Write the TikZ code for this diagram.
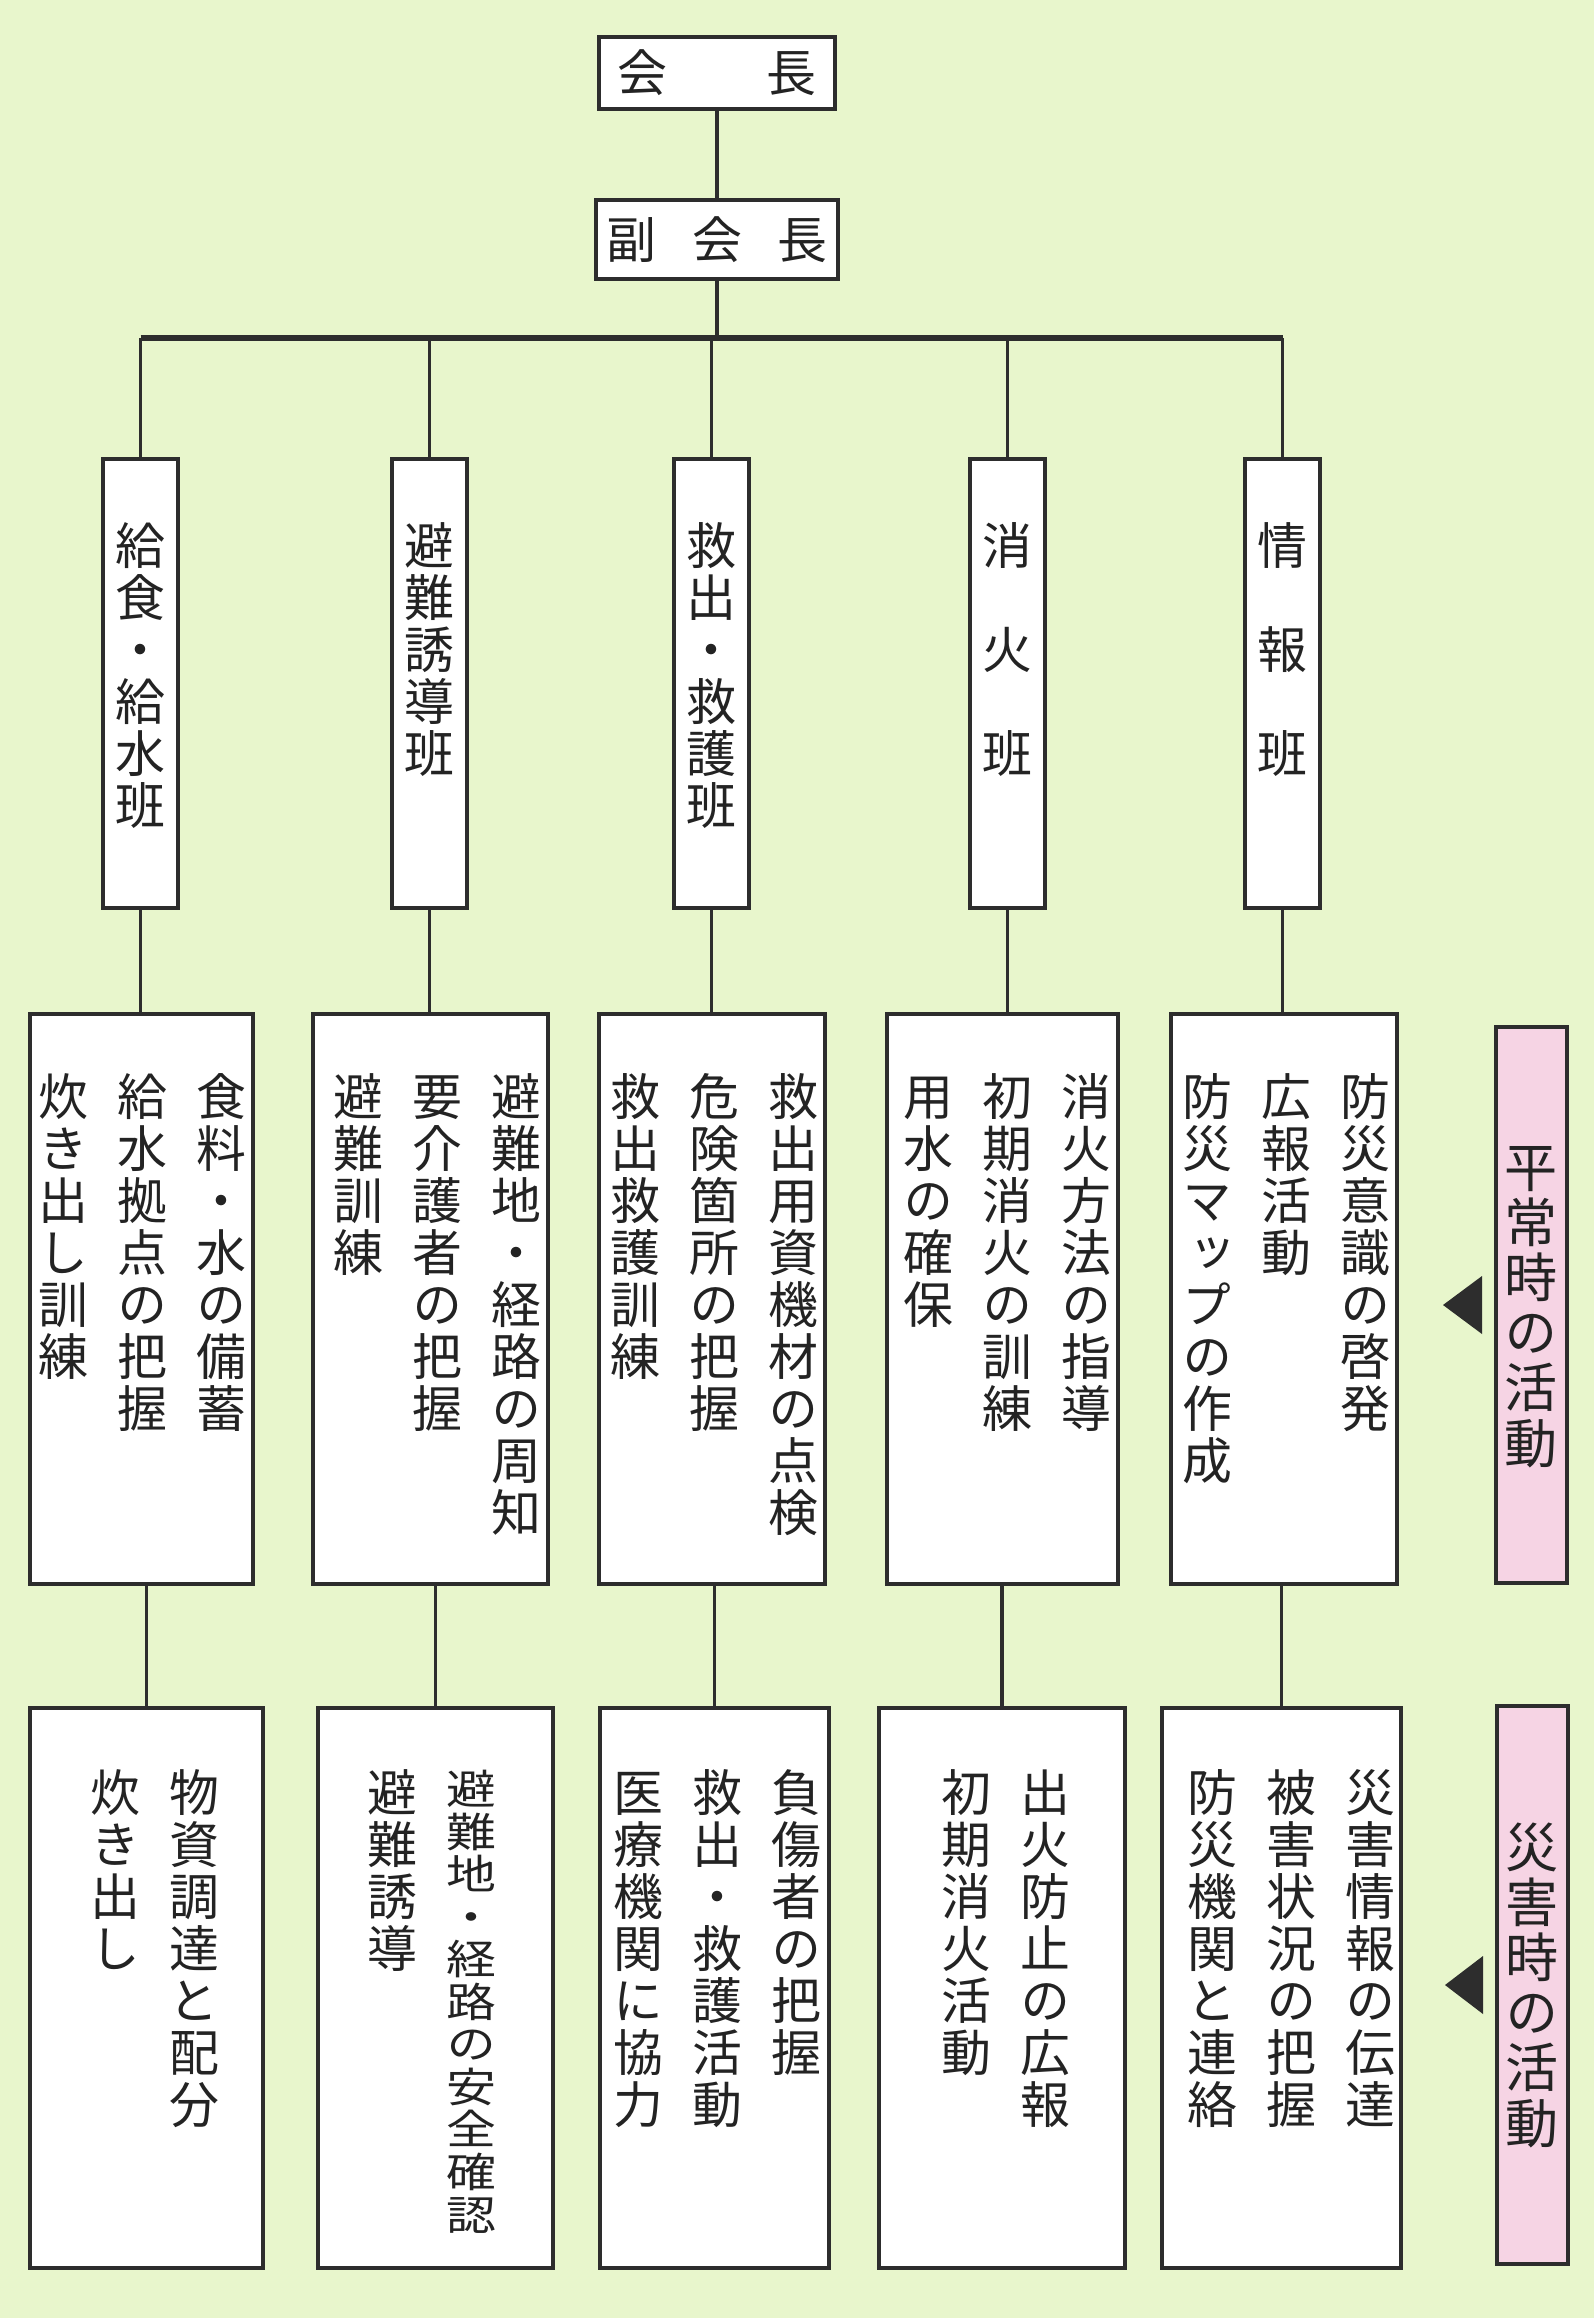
\documentclass[tikz,border=0pt]{standalone}
\usepackage{fontspec}
\usepackage{graphicx}
\usepackage{tikz}
\usetikzlibrary{positioning}
\newfontfamily\jp[RawFeature=+vert]{Noto Sans CJK JP}
\definecolor{bgcol}{RGB}{232,246,204}
\definecolor{pinkcol}{RGB}{246,212,228}
\definecolor{linecol}{RGB}{45,45,45}
\definecolor{textcol}{RGB}{35,35,35}

\newcommand\tatecell[1]{\hbox to 1em{\hss\vrule height .88em depth .12em width 0pt #1\hss}}
\ExplSyntaxOn
\NewDocumentCommand\tate{m}{\vtop{\baselineskip=1.04em\lineskiplimit=-\maxdimen\tl_map_function:nN{#1}\tatecell}}
\ExplSyntaxOff
\newcommand\colgap{\hspace{0.58em}}

\tikzset{
	head/.style     = {draw=linecol, line width=1.4pt, fill=white, inner sep=0pt, outer sep=0pt,
		minimum width=23.6mm, minimum height=7.2mm},
	team/.style     = {draw=linecol, line width=1.4pt, fill=white, inner sep=0pt, outer sep=0pt,
		minimum width=7.5mm, minimum height=44.9mm},
	usual/.style    = {draw=linecol, line width=1.4pt, fill=white, inner sep=0pt, outer sep=0pt,
		minimum height=57mm},
	disaster/.style = {draw=linecol, line width=1.4pt, fill=white, inner sep=0pt, outer sep=0pt,
		minimum height=56mm},
	period/.style   = {draw=linecol, line width=1.4pt, fill=pinkcol, inner sep=0pt, outer sep=0pt,
		minimum width=7.1mm, font=\jp\fontsize{15.1pt}{15.7pt}\selectfont},
	vtext/.style    = {inner sep=0pt, outer sep=0pt}, % column text
	link/.style     = {draw=linecol, line width=1.1pt},
	busline/.style  = {draw=linecol, line width=1.5pt}
}

\begin{document}
\begin{tikzpicture}[x=0.1mm, y=-0.1mm, font=\jp\fontsize{14.2pt}{14.8pt}\selectfont, text=textcol]
	\fill[bgcol] (0,0) rectangle (1594,2318);
	\useasboundingbox (0,0) rectangle (1594,2318);

	\draw
	node at (717,73) [head] (kaicho) {会　　長}
	node at (717,239.5) [head, minimum width=24.2mm, minimum height=7.9mm] (fuku) {副\hspace{0.72em}会\hspace{0.72em}長}

	node at (140.5,683.5) [team] (t1) {}
	node at (429.5,683.5) [team] (t2) {}
	node at (711.5,683.5) [team] (t3) {}
	node at (1007.5,683.5) [team] (t4) {}
	node at (1282.5,683.5) [team] (t5) {}
	node [vtext, below=6.2mm of t1.north] (t1t) {\tate{給食・給水班}}
	node [vtext, below=6.2mm of t2.north] (t2t) {\tate{避難誘導班}}
	node [vtext, below=6.2mm of t3.north] (t3t) {\tate{救出・救護班}}
	node [vtext, below=6.2mm of t4.north] (t4t) {\tate{消　火　班}}
	node [vtext, below=6.2mm of t5.north] (t5t) {\tate{情　報　班}}

	node at (141.5,1299) [usual, minimum width=22.3mm] (a1) {}
	node at (430.5,1299) [usual, minimum width=23.5mm] (a2) {}
	node at (712,1299) [usual, minimum width=22.6mm] (a3) {}
	node at (1002.5,1299) [usual, minimum width=23.1mm] (a4) {}
	node at (1284,1299) [usual, minimum width=22.6mm] (a5) {}
	node [vtext, below left=5.8mm and 0.7mm of a1.north east] (a1t) {\tate{炊き出し訓練}\colgap\tate{給水拠点の把握}\colgap\tate{食料・水の備蓄}}
	node [vtext, below left=5.8mm and 0.7mm of a2.north east] (a2t) {\tate{避難訓練}\colgap\tate{要介護者の把握}\colgap\tate{避難地・経路の周知}}
	node [vtext, below left=5.8mm and 0.7mm of a3.north east] (a3t) {\tate{救出救護訓練}\colgap\tate{危険箇所の把握}\colgap\tate{救出用資機材の点検}}
	node [vtext, below left=5.8mm and 0.7mm of a4.north east] (a4t) {\tate{用水の確保}\colgap\tate{初期消火の訓練}\colgap\tate{消火方法の指導}}
	node [vtext, below left=5.8mm and 0.7mm of a5.north east] (a5t) {\tate{防災マップの作成}\colgap\tate{広報活動}\colgap\tate{防災意識の啓発}}

	node at (146.5,1988) [disaster, minimum width=23.3mm] (b1) {}
	node at (435.5,1988) [disaster, minimum width=23.5mm] (b2) {}
	node at (714.5,1988) [disaster, minimum width=22.9mm] (b3) {}
	node at (1002,1988) [disaster, minimum width=24.6mm] (b4) {}
	node at (1281.5,1988) [disaster, minimum width=23.9mm] (b5) {}
	node [vtext, below left=6mm and 4.4mm of b1.north east] (b1t) {\tate{炊き出し}\colgap\tate{物資調達と配分}}
	node [vtext, below left=6mm and 5.7mm of b2.north east] (b2t) {\tate{避難誘導}\colgap\raisebox{.15em}{\scalebox{1}[0.82]{\tate{避難地・経路の安全確認}}}}
	node [vtext, below left=6mm and 0.8mm of b3.north east] (b3t) {\tate{医療機関に協力}\colgap\tate{救出・救護活動}\colgap\tate{負傷者の把握}}
	node [vtext, below left=6mm and 5.5mm of b4.north east] (b4t) {\tate{初期消火活動}\colgap\tate{出火防止の広報}}
	node [vtext, below left=6mm and 0.6mm of b5.north east] (b5t) {\tate{防災機関と連絡}\colgap\tate{被害状況の把握}\colgap\tate{災害情報の伝達}}

	node at (1531.5,1305) [period, minimum height=55.6mm] (L1) {\tate{平常時の活動}}
	node at (1532.5,1985) [period, minimum height=55.8mm] (L2) {\tate{災害時の活動}};

	\coordinate (bus) at (717,338);
	\fill[linecol] (L1.west) ++(-14,-29) -- ++(0,58) -- ++(-39,-29) -- cycle;
	\fill[linecol] (L2.west) ++(-14,-29) -- ++(0,58) -- ++(-38,-29) -- cycle;

	\draw[link] (kaicho) -- (fuku);
	\draw[link] (fuku) -- (bus);
	\draw[busline] (t1.north |- bus) -- (t5.north |- bus);
	\draw[link] (t1.north) -- (t1.north |- bus);
	\draw[link] (t2.north) -- (t2.north |- bus);
	\draw[link] (t3.north) -- (t3.north |- bus);
	\draw[link] (t4.north) -- (t4.north |- bus);
	\draw[link] (t5.north) -- (t5.north |- bus);
	\draw[link] (t1.south) -- (t1.south |- a1.north);
	\draw[link] (t2.south) -- (t2.south |- a2.north);
	\draw[link] (t3.south) -- (t3.south |- a3.north);
	\draw[link] (t4.south) -- (t4.south |- a4.north);
	\draw[link] (t5.south) -- (t5.south |- a5.north);
	\draw[link] (b1.north) -- (b1.north |- a1.south);
	\draw[link] (b2.north) -- (b2.north |- a2.south);
	\draw[link] (b3.north) -- (b3.north |- a3.south);
	\draw[link] (b4.north) -- (b4.north |- a4.south);
	\draw[link] (b5.north) -- (b5.north |- a5.south);
\end{tikzpicture}
\end{document}
